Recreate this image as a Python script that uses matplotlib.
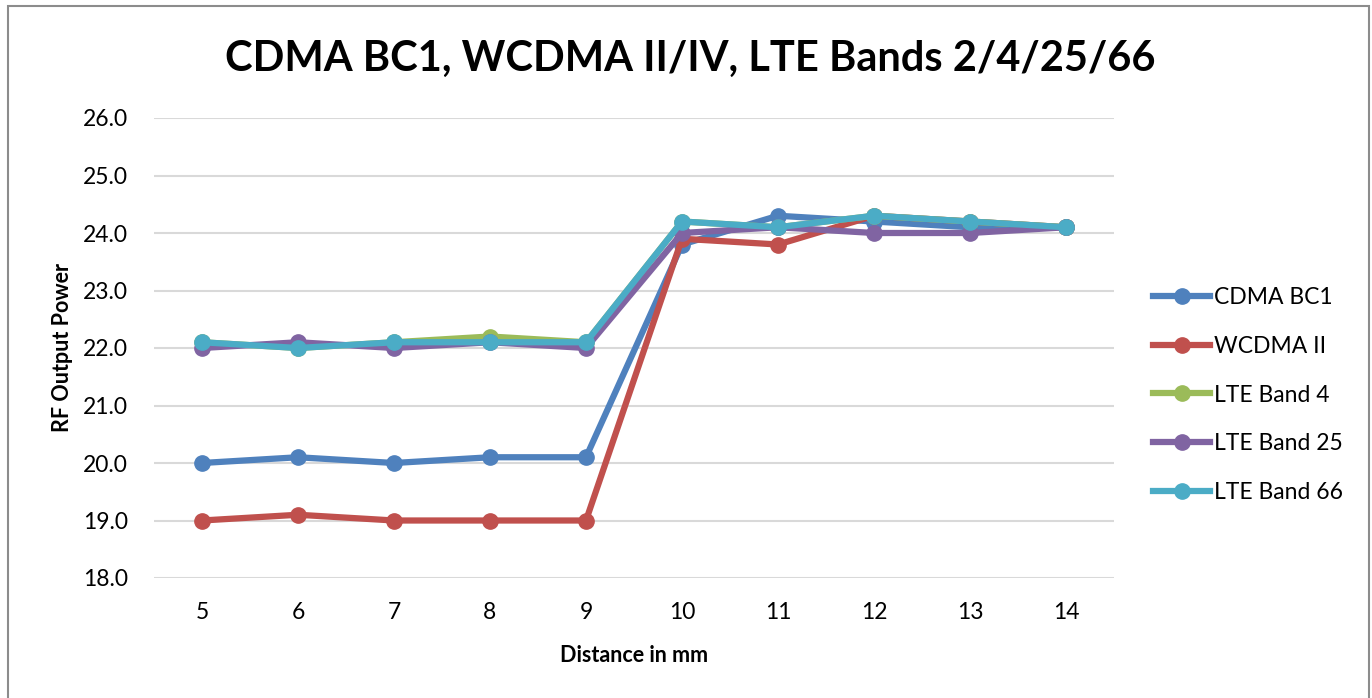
import matplotlib
matplotlib.use('Agg')
import matplotlib.pyplot as plt
from matplotlib.patches import Rectangle

plt.rcParams['font.family'] = ['Lato', 'DejaVu Sans']

distance = [5, 6, 7, 8, 9, 10, 11, 12, 13, 14]
cdma_bc1 = [20.0, 20.1, 20.0, 20.1, 20.1, 23.8, 24.3, 24.2, 24.1, 24.1]
wcdma_ii = [19.0, 19.1, 19.0, 19.0, 19.0, 23.9, 23.8, 24.3, 24.2, 24.1]
lte_b4 = [22.1, 22.0, 22.1, 22.2, 22.1, 24.2, 24.1, 24.3, 24.2, 24.1]
lte_b25 = [22.0, 22.1, 22.0, 22.1, 22.0, 24.0, 24.1, 24.0, 24.0, 24.1]
lte_b66 = [22.1, 22.0, 22.1, 22.1, 22.1, 24.2, 24.1, 24.3, 24.2, 24.1]

series = [
    ('CDMA BC1', cdma_bc1, '#4f81bd'),
    ('WCDMA II', wcdma_ii, '#c0504d'),
    ('LTE Band 4', lte_b4, '#9bbb59'),
    ('LTE Band 25', lte_b25, '#8064a2'),
    ('LTE Band 66', lte_b66, '#4bacc6'),
]
yticks = [18.0, 19.0, 20.0, 21.0, 22.0, 23.0, 24.0, 25.0, 26.0]

fig = plt.figure(figsize=(13.72, 6.98), dpi=100)
# outer chart border
fig.patches.append(Rectangle((8 / 1372, -0.01), 1361 / 1372, 1 - 6 / 698 + 0.01,
                             transform=fig.transFigure, fill=False,
                             edgecolor='#8c8c8c', linewidth=1.5))

ax = fig.add_axes([154 / 1372, 1 - 578 / 698, 960 / 1372, 460 / 698])

for name, vals, col in series:
    ax.plot(distance, vals, color=col, linewidth=4.5, marker='o',
            markersize=11, label=name, solid_joinstyle='round')

ax.set_xlim(4.5, 14.5)
ax.set_ylim(18, 26)
ax.set_yticks(yticks)
ax.set_yticklabels([f'{v:.1f}' for v in yticks])
ax.set_xticks(distance)
ax.grid(axis='y', color='#d9d9d9', linewidth=1.5)
ax.set_axisbelow(True)
for s in ax.spines.values():
    s.set_visible(False)
ax.tick_params(length=0, labelsize=16.5)
ax.tick_params(axis='y', pad=19)
ax.tick_params(axis='x', pad=17)

ax.set_xlabel('Distance in mm', fontsize=15.5, fontweight='bold', labelpad=16)
ax.set_ylabel('RF Output Power', fontsize=15.5, fontweight='bold', labelpad=7)

fig.text(690 / 1372, 1 - 59 / 698, 'CDMA BC1, WCDMA II/IV, LTE Bands 2/4/25/66',
         ha='center', va='center', fontsize=30, fontweight='bold')

fig.legend(loc='center left', bbox_to_anchor=(1153 / 1372, 1 - 395 / 698),
           frameon=False, fontsize=16.5, handlelength=2.5, handletextpad=0.15,
           labelspacing=1.22, borderpad=0, borderaxespad=0)

fig.savefig('out.png', dpi=100)
